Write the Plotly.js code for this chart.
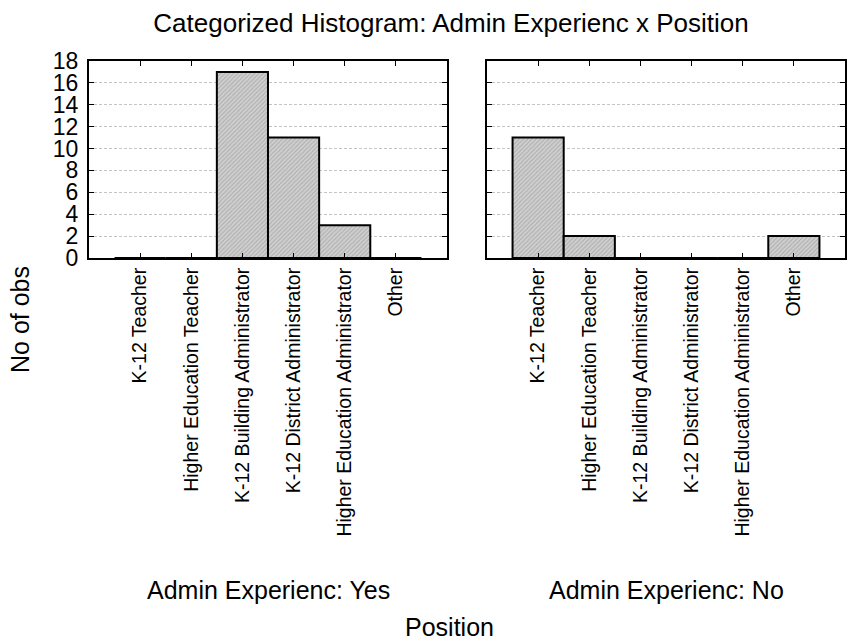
<!DOCTYPE html>
<html>
<head>
<meta charset="utf-8">
<script src="https://cdn.plot.ly/plotly-3.0.1.min.js"></script>
<style>
  html, body { margin: 0; padding: 0; background: #fff; }
  #chart { width: 849px; height: 644px; }
</style>
</head>
<body>
<div id="chart"></div>
<script>
// Position categories shared by both panels
const positions = [
  "K-12 Teacher",
  "Higher Education Teacher",
  "K-12 Building Administrator",
  "K-12 District Administrator",
  "Higher Education Administrator",
  "Other"
];
// Counts per position, split by administrative experience
const countsYes = [0, 0, 17, 11, 3, 0];
const countsNo  = [11, 2, 0, 0, 0, 2];
const panelTitles = ["Admin Experienc: Yes", "Admin Experienc: No"];
const yTicks = [0, 2, 4, 6, 8, 10, 12, 14, 16, 18];

const FONT = "Liberation Sans, Arial, sans-serif";

function barTrace(values, xa, ya) {
  return {
    type: "bar",
    x: positions,
    y: values,
    xaxis: xa,
    yaxis: ya,
    width: 1,
    marker: {
      color: "#cfcfcf",
      line: { color: "#000", width: 2 },
      pattern: { shape: "/", fgcolor: "#aaaaaa", bgcolor: "#cfcfcf", size: 3, solidity: 0.3 }
    },
    hoverinfo: "x+y",
    showlegend: false
  };
}

function xAxis(domain, anchor) {
  return {
    domain: domain,
    anchor: anchor,
    type: "category",
    categoryorder: "array",
    categoryarray: positions,
    range: [-1, 6],
    showline: true, linecolor: "#000", linewidth: 2, mirror: "ticks",
    ticks: "inside", ticklen: 5, tickwidth: 1, tickcolor: "#000",
    tickangle: -90,
    ticklabelstandoff: 0,
    tickfont: { family: FONT, size: 19.5, color: "#000" },
    showgrid: false, zeroline: false, fixedrange: true
  };
}

function yAxis(anchor, showLabels) {
  return {
    domain: [0.5994, 0.9053],
    anchor: anchor,
    range: [0, 18],
    tickmode: "array",
    tickvals: yTicks,
    ticktext: yTicks.map(String),
    showticklabels: showLabels,
    tickfont: { family: FONT, size: 23, color: "#000" },
    ticklabelstandoff: 4,
    showline: true, linecolor: "#000", linewidth: 2, mirror: "ticks",
    ticks: "inside", ticklen: 5, tickwidth: 1, tickcolor: "#000",
    showgrid: true, gridcolor: "#c4c4c4", gridwidth: 1, griddash: "3px,2px",
    zeroline: false, fixedrange: true
  };
}

const data = [
  barTrace(countsYes, "x", "y"),
  barTrace(countsNo, "x2", "y2")
];

const layout = {
  width: 849,
  height: 644,
  margin: { l: 0, r: 0, t: 0, b: 0 },
  paper_bgcolor: "#fff",
  plot_bgcolor: "#fff",
  bargap: 0,
  font: { family: FONT, color: "#000" },
  title: {
    text: "Categorized Histogram: Admin Experienc x Position",
    font: { family: FONT, size: 26, color: "#000" },
    x: 451 / 849, xanchor: "center",
    y: 1 - 23 / 644, yanchor: "middle"
  },
  xaxis: xAxis([0.1048, 0.5265], "y"),
  yaxis: yAxis("x", true),
  xaxis2: xAxis([0.5736, 0.9953], "y2"),
  yaxis2: yAxis("x2", false),
  annotations: [
    { text: panelTitles[0], xref: "paper", yref: "paper", x: 268 / 849, y: 1 - 590 / 644,
      xanchor: "center", yanchor: "middle", showarrow: false,
      font: { family: FONT, size: 25, color: "#000" } },
    { text: panelTitles[1], xref: "paper", yref: "paper", x: 666 / 849, y: 1 - 590 / 644,
      xanchor: "center", yanchor: "middle", showarrow: false,
      font: { family: FONT, size: 25, color: "#000" } },
    { text: "Position", xref: "paper", yref: "paper", x: 449 / 849, y: 1 - 627 / 644,
      xanchor: "center", yanchor: "middle", showarrow: false,
      font: { family: FONT, size: 25, color: "#000" } },
    { text: "No of obs", xref: "paper", yref: "paper", x: 20 / 849, y: 1 - 320 / 644,
      xanchor: "center", yanchor: "middle", showarrow: false, textangle: -90,
      font: { family: FONT, size: 25, color: "#000" } }
  ]
};

Plotly.newPlot("chart", data, layout, { staticPlot: true, displayModeBar: false });
</script>
</body>
</html>
